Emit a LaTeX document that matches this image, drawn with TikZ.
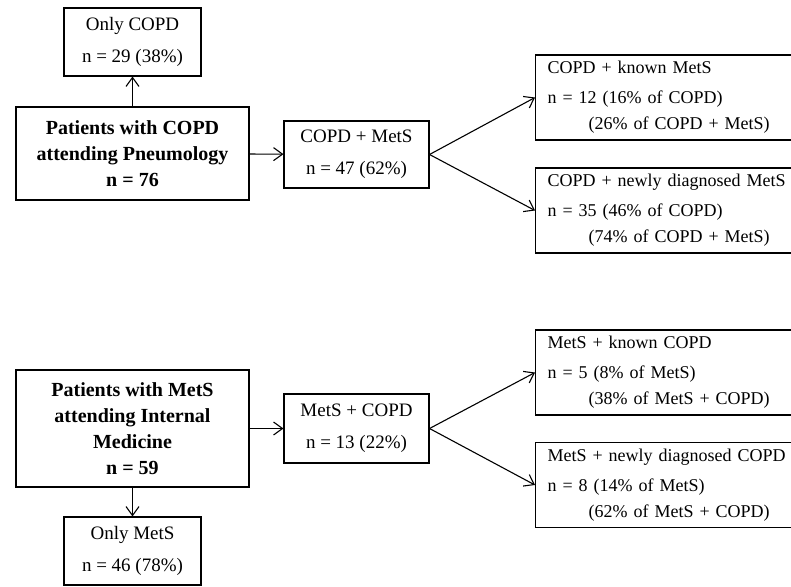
\documentclass[tikz,border=0pt]{standalone}
\usepackage{fontspec}
\setmainfont{Liberation Serif}
\usetikzlibrary{arrows.meta}

\begin{document}
\begin{tikzpicture}
[x=1pt,y=-1pt,%
  lineDecorate/.style={-{Straight Barb[length=9pt,width=13pt]},line width=1.1pt},%
  nodeDecorate/.style={shape=rectangle,draw,line width=1.1pt,inner sep=0pt,align=center,font=\fontsize{19}{26}\selectfont},%
  sideDecorate/.style={nodeDecorate,anchor=west,inner xsep=12pt,text width=262pt,minimum height=85pt,align=left,font=\fontsize{18}{26}\selectfont}]
\useasboundingbox (0,0) rectangle (791,586);
%% patient groups
\node[nodeDecorate,minimum width=233pt,minimum height=93pt,font=\fontsize{20}{26}\selectfont\bfseries]
  (pcopd) at (132.5,153.5) {Patients with COPD\\attending Pneumology\\n = 76};
\node[nodeDecorate,minimum width=233pt,minimum height=117pt,font=\fontsize{20}{26}\selectfont\bfseries]
  (pmets) at (132.5,428.5) {Patients with MetS\\attending Internal\\Medicine\\n = 59};
%% only one disease
\node[nodeDecorate,minimum width=137pt,minimum height=68pt] (onlycopd) at (132.5,42) {Only COPD\\[6pt]n = 29 (38\%)};
\node[nodeDecorate,minimum width=137pt,minimum height=68pt] (onlymets) at (132.5,551) {Only MetS\\[6pt]n = 46 (78\%)};
%% both diseases
\node[nodeDecorate,minimum width=145pt,minimum height=67pt] (copdmets) at (356.5,154.5) {COPD + MetS\\[6pt]n = 47 (62\%)};
\node[nodeDecorate,minimum width=145pt,minimum height=69pt] (metscopd) at (356.5,428.5) {MetS + COPD\\[6pt]n = 13 (22\%)};
%% known and newly diagnosed
\foreach \nodename/\y/\first/\second/\third in {
  knownmets/97.5/{COPD + known MetS}/{n = 12 (16\% of COPD)}/{(26\% of COPD + MetS)},
  newmets/210.5/{COPD + newly diagnosed MetS}/{n = 35 (46\% of COPD)}/{(74\% of COPD + MetS)},
  knowncopd/372.5/{MetS + known COPD}/{n = 5 (8\% of MetS)}/{(38\% of MetS + COPD)},
  newcopd/485/{MetS + newly diagnosed COPD}/{n = 8 (14\% of MetS)}/{(62\% of MetS + COPD)}}
{
  \node[sideDecorate] (\nodename) at (535,\y) {\first\\[4pt]\second\\\hspace*{41pt}\third};
}
%% connect the boxes
\path
(pcopd) edge[lineDecorate] (onlycopd)
(pcopd) edge[lineDecorate] (copdmets)
(copdmets.east) edge[lineDecorate] (knownmets.west)
(copdmets.east) edge[lineDecorate] (newmets.west)
(pmets) edge[lineDecorate] (onlymets)
(pmets) edge[lineDecorate] (metscopd)
(metscopd.east) edge[lineDecorate] (knowncopd.west)
(metscopd.east) edge[lineDecorate] (newcopd.west);
\end{tikzpicture}
\end{document}
